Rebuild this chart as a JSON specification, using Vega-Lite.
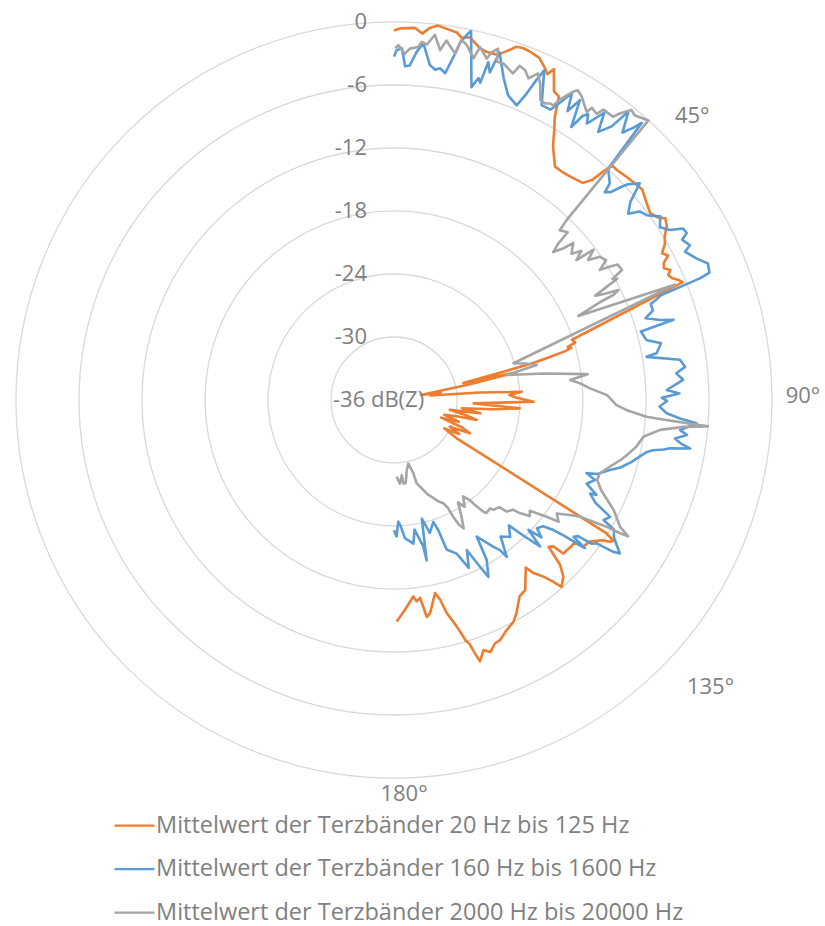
{
  "$schema": "https://vega.github.io/schema/vega-lite/v6.json",
  "width": 825,
  "height": 926,
  "padding": 0,
  "autosize": {"type": "none"},
  "background": "white",
  "config": {"view": {"stroke": null}, "font": "Open Sans"},
  "datasets": {
    "series": [
      {"s": "a", "name": "Mittelwert der Terzbänder 20 Hz bis 125 Hz"},
      {"s": "b", "name": "Mittelwert der Terzbänder 160 Hz bis 1600 Hz"},
      {"s": "c", "name": "Mittelwert der Terzbänder 2000 Hz bis 20000 Hz"}
    ],
    "rings": [{"db": -30}, {"db": -24}, {"db": -18}, {"db": -12}, {"db": -6}, {"db": 0}],
    "ringlabels": [
      {"db": 0, "lab": "0"}, {"db": -6, "lab": "-6"}, {"db": -12, "lab": "-12"},
      {"db": -18, "lab": "-18"}, {"db": -24, "lab": "-24"}, {"db": -30, "lab": "-30"}
    ],
    "centerlabel": [{"db": -36, "lab": "-36 dB(Z)"}],
    "anglabels": [
      {"t": 45, "lab": "45°"}, {"t": 90, "lab": "90°"}, {"t": 135, "lab": "135°"}, {"t": 180, "lab": "180°"}
    ],
    "curves": [
      {"s":"a","t":0,"v":-0.8},{"s":"a","t":1,"v":-0.6},{"s":"a","t":3.2,"v":-0.5},{"s":"a","t":4.4,"v":-1.0},{"s":"a","t":5.5,"v":-0.4},{"s":"a","t":6.7,"v":-0.1},{"s":"a","t":8.1,"v":-0.3},{"s":"a","t":9.7,"v":-0.5},{"s":"a","t":10.6,"v":-0.9},{"s":"a","t":11.8,"v":-0.7},{"s":"a","t":13.7,"v":-1.5},{"s":"a","t":15,"v":-1.7},{"s":"a","t":16.6,"v":-1.7},{"s":"a","t":17.7,"v":-1.2},{"s":"a","t":19.1,"v":-0.4},{"s":"a","t":20.1,"v":-0.3},{"s":"a","t":21.5,"v":-0.4},{"s":"a","t":23,"v":-0.6},{"s":"a","t":24.5,"v":-1.3},{"s":"a","t":25.2,"v":-1.7},{"s":"a","t":25.8,"v":-1.0},{"s":"a","t":27.4,"v":-2.9},{"s":"a","t":28.5,"v":-3.1},{"s":"a","t":29.6,"v":-5.0},{"s":"a","t":30.6,"v":-6.0},{"s":"a","t":32.1,"v":-7.5},{"s":"a","t":34.6,"v":-9.0},{"s":"a","t":36.7,"v":-9.0},{"s":"a","t":38.3,"v":-8.9},{"s":"a","t":41,"v":-8.6},{"s":"a","t":42,"v":-7.8},{"s":"a","t":42.5,"v":-6.4},{"s":"a","t":43,"v":-5.5},{"s":"a","t":44.1,"v":-5.5},{"s":"a","t":46.3,"v":-5.3},{"s":"a","t":48.5,"v":-5.1},{"s":"a","t":49.7,"v":-5.0},{"s":"a","t":52.1,"v":-5.5},{"s":"a","t":53.9,"v":-5.8},{"s":"a","t":55.2,"v":-5.5},{"s":"a","t":56.2,"v":-4.9},{"s":"a","t":57.5,"v":-5.2},{"s":"a","t":58.9,"v":-5.9},{"s":"a","t":60,"v":-6.2},{"s":"a","t":61.3,"v":-6.9},{"s":"a","t":62.2,"v":-6.5},{"s":"a","t":63.1,"v":-7.2},{"s":"a","t":64,"v":-7.4},{"s":"a","t":64.8,"v":-6.9},{"s":"a","t":65.5,"v":-7.3},{"s":"a","t":66.3,"v":-7.1},{"s":"a","t":67.1,"v":-6.6},{"s":"a","t":67.8,"v":-6.3},{"s":"a","t":71.3,"v":-18.1},{"s":"a","t":72.4,"v":-17.9},{"s":"a","t":73,"v":-18.7},{"s":"a","t":73.6,"v":-18.4},{"s":"a","t":74.1,"v":-19.1},{"s":"a","t":74.6,"v":-20.6},{"s":"a","t":75.1,"v":-22.2},{"s":"a","t":75.6,"v":-25.6},{"s":"a","t":76.2,"v":-29.2},{"s":"a","t":77.3,"v":-24.1},{"s":"a","t":78.3,"v":-28.8},{"s":"a","t":79.5,"v":-33.4},{"s":"a","t":81,"v":-31.5},{"s":"a","t":83,"v":-32.5},{"s":"a","t":85,"v":-27.8},{"s":"a","t":86.3,"v":-23.8},{"s":"a","t":87.5,"v":-25.0},{"s":"a","t":89,"v":-24.3},{"s":"a","t":90.7,"v":-22.7},{"s":"a","t":92.4,"v":-28.4},{"s":"a","t":93.8,"v":-24.0},{"s":"a","t":95.3,"v":-26.5},{"s":"a","t":97,"v":-29.5},{"s":"a","t":98.8,"v":-27.7},{"s":"a","t":100,"v":-30.6},{"s":"a","t":102,"v":-29.0},{"s":"a","t":103.6,"v":-27.9},{"s":"a","t":104.5,"v":-29.7},{"s":"a","t":106.5,"v":-31.0},{"s":"a","t":108.5,"v":-29.5},{"s":"a","t":110.5,"v":-31.2},{"s":"a","t":112,"v":-29.0},{"s":"a","t":113.7,"v":-28.1},{"s":"a","t":115.5,"v":-30.1},{"s":"a","t":117.5,"v":-29.0},{"s":"a","t":119.5,"v":-30.5},{"s":"a","t":121.4,"v":-29.0},{"s":"a","t":122.1,"v":-12.1},{"s":"a","t":122.7,"v":-11.2},{"s":"a","t":123.3,"v":-11.4},{"s":"a","t":124,"v":-12.1},{"s":"a","t":125.9,"v":-13.0},{"s":"a","t":127.8,"v":-13.2},{"s":"a","t":128.3,"v":-14.1},{"s":"a","t":129.5,"v":-14.1},{"s":"a","t":131,"v":-14.2},{"s":"a","t":132.2,"v":-14.2},{"s":"a","t":132.6,"v":-15.4},{"s":"a","t":133.5,"v":-15.7},{"s":"a","t":134.8,"v":-13.7},{"s":"a","t":136.2,"v":-12.7},{"s":"a","t":138.1,"v":-12.1},{"s":"a","t":138.8,"v":-13.0},{"s":"a","t":139.8,"v":-14.0},{"s":"a","t":141.2,"v":-14.9},{"s":"a","t":141.8,"v":-15.7},{"s":"a","t":145.4,"v":-14.0},{"s":"a","t":147.4,"v":-13.8},{"s":"a","t":150.1,"v":-12.6},{"s":"a","t":151.7,"v":-12.0},{"s":"a","t":153.9,"v":-11.6},{"s":"a","t":156.2,"v":-11.0},{"s":"a","t":157.5,"v":-10.9},{"s":"a","t":159.1,"v":-10.3},{"s":"a","t":160.3,"v":-10.7},{"s":"a","t":161.8,"v":-9.8},{"s":"a","t":162.3,"v":-10.7},{"s":"a","t":162.8,"v":-11.7},{"s":"a","t":163.4,"v":-12.1},{"s":"a","t":164.5,"v":-13.6},{"s":"a","t":166.1,"v":-15.1},{"s":"a","t":167,"v":-16.5},{"s":"a","t":168,"v":-17.2},{"s":"a","t":170.4,"v":-15.4},{"s":"a","t":171.4,"v":-15.1},{"s":"a","t":172.5,"v":-17.0},{"s":"a","t":173.6,"v":-16.7},{"s":"a","t":174.4,"v":-17.2},{"s":"a","t":177,"v":-16.0},{"s":"a","t":179.3,"v":-14.9},
      {"s":"b","t":0,"v":-3.3},{"s":"b","t":0.4,"v":-2.7},{"s":"b","t":1.3,"v":-2.5},{"s":"b","t":1.9,"v":-4.2},{"s":"b","t":2.7,"v":-4.1},{"s":"b","t":3.7,"v":-2.8},{"s":"b","t":4.7,"v":-1.9},{"s":"b","t":6.1,"v":-3.9},{"s":"b","t":7.1,"v":-4.3},{"s":"b","t":7.9,"v":-4.1},{"s":"b","t":8.9,"v":-4.5},{"s":"b","t":10,"v":-2.5},{"s":"b","t":10.5,"v":-1.4},{"s":"b","t":11.3,"v":-0.5},{"s":"b","t":11.8,"v":-0.1},{"s":"b","t":13.9,"v":-5.3},{"s":"b","t":14.7,"v":-4.3},{"s":"b","t":15.2,"v":-4.7},{"s":"b","t":15.6,"v":-2.6},{"s":"b","t":16.3,"v":-3.5},{"s":"b","t":16.9,"v":-1.4},{"s":"b","t":18.8,"v":-3.6},{"s":"b","t":20.5,"v":-5.0},{"s":"b","t":22.6,"v":-5.6},{"s":"b","t":23.4,"v":-4.2},{"s":"b","t":24,"v":-2.6},{"s":"b","t":24.5,"v":-1.5},{"s":"b","t":26.6,"v":-4.6},{"s":"b","t":28.3,"v":-4.6},{"s":"b","t":29.3,"v":-3.4},{"s":"b","t":30.1,"v":-2.2},{"s":"b","t":31,"v":-3.9},{"s":"b","t":31.8,"v":-2.4},{"s":"b","t":33,"v":-5.0},{"s":"b","t":33.6,"v":-3.5},{"s":"b","t":34.2,"v":-3.1},{"s":"b","t":34.9,"v":-3.9},{"s":"b","t":36.2,"v":-2.1},{"s":"b","t":37.3,"v":-3.9},{"s":"b","t":38.5,"v":-2.7},{"s":"b","t":39.1,"v":-0.6},{"s":"b","t":40.5,"v":-2.5},{"s":"b","t":41.3,"v":-1.5},{"s":"b","t":41.8,"v":-0.6},{"s":"b","t":42.8,"v":-6.0},{"s":"b","t":44,"v":-6.5},{"s":"b","t":44.9,"v":-6.9},{"s":"b","t":45.4,"v":-7.8},{"s":"b","t":46.2,"v":-7.4},{"s":"b","t":46.8,"v":-6.4},{"s":"b","t":47.3,"v":-5.7},{"s":"b","t":48.6,"v":-4.8},{"s":"b","t":50,"v":-6.6},{"s":"b","t":51.5,"v":-7.5},{"s":"b","t":52.5,"v":-6.5},{"s":"b","t":53.8,"v":-6.2},{"s":"b","t":55.4,"v":-5.2},{"s":"b","t":57,"v":-5.8},{"s":"b","t":58.4,"v":-5.1},{"s":"b","t":59.3,"v":-4.0},{"s":"b","t":60.3,"v":-3.9},{"s":"b","t":60.9,"v":-4.6},{"s":"b","t":62.4,"v":-4.2},{"s":"b","t":63,"v":-4.9},{"s":"b","t":64.9,"v":-4.2},{"s":"b","t":66.5,"v":-3.4},{"s":"b","t":68,"v":-3.6},{"s":"b","t":68.3,"v":-4.6},{"s":"b","t":68.6,"v":-8.7},{"s":"b","t":69,"v":-9.2},{"s":"b","t":69.5,"v":-9.9},{"s":"b","t":70.9,"v":-9.9},{"s":"b","t":72,"v":-10.8},{"s":"b","t":73.3,"v":-9.5},{"s":"b","t":74,"v":-8.3},{"s":"b","t":74.5,"v":-11.6},{"s":"b","t":76.6,"v":-11.3},{"s":"b","t":78,"v":-10.0},{"s":"b","t":79.9,"v":-10.6},{"s":"b","t":80.3,"v":-11.6},{"s":"b","t":82,"v":-8.5},{"s":"b","t":83.5,"v":-8.1},{"s":"b","t":84.6,"v":-9.0},{"s":"b","t":86,"v":-8.4},{"s":"b","t":87.9,"v":-10.0},{"s":"b","t":88.7,"v":-8.8},{"s":"b","t":89.5,"v":-10.5},{"s":"b","t":90.2,"v":-10.0},{"s":"b","t":91.4,"v":-10.7},{"s":"b","t":92.8,"v":-10.0},{"s":"b","t":93.7,"v":-8.7},{"s":"b","t":94.4,"v":-7.1},{"s":"b","t":96,"v":-8.6},{"s":"b","t":96.8,"v":-7.9},{"s":"b","t":97.8,"v":-9.0},{"s":"b","t":98.6,"v":-8.4},{"s":"b","t":99.3,"v":-7.4},{"s":"b","t":99.9,"v":-9.3},{"s":"b","t":100.4,"v":-9.9},{"s":"b","t":101,"v":-10.9},{"s":"b","t":101.6,"v":-11.4},{"s":"b","t":103,"v":-12.0},{"s":"b","t":104.6,"v":-12.6},{"s":"b","t":106.6,"v":-13.5},{"s":"b","t":108,"v":-14.4},{"s":"b","t":110,"v":-15.4},{"s":"b","t":110.8,"v":-16.4},{"s":"b","t":111.7,"v":-15.4},{"s":"b","t":113.5,"v":-16.0},{"s":"b","t":115.1,"v":-14.7},{"s":"b","t":115.5,"v":-15.3},{"s":"b","t":117,"v":-14.5},{"s":"b","t":118.4,"v":-12.6},{"s":"b","t":119.8,"v":-13.0},{"s":"b","t":120.5,"v":-11.7},{"s":"b","t":122,"v":-11.3},{"s":"b","t":124.2,"v":-10.0},{"s":"b","t":124.7,"v":-10.6},{"s":"b","t":125.3,"v":-12.4},{"s":"b","t":126,"v":-12.7},{"s":"b","t":126.5,"v":-14.2},{"s":"b","t":127.3,"v":-14.5},{"s":"b","t":127.8,"v":-13.0},{"s":"b","t":128.6,"v":-15.3},{"s":"b","t":129.2,"v":-16.4},{"s":"b","t":130.3,"v":-17.4},{"s":"b","t":131.9,"v":-17.7},{"s":"b","t":133,"v":-16.8},{"s":"b","t":134,"v":-18.2},{"s":"b","t":135.1,"v":-16.3},{"s":"b","t":135.8,"v":-17.4},{"s":"b","t":136.6,"v":-18.5},{"s":"b","t":137.5,"v":-19.8},{"s":"b","t":139.7,"v":-18.9},{"s":"b","t":142,"v":-19.5},{"s":"b","t":144.3,"v":-17.6},{"s":"b","t":144.8,"v":-18.5},{"s":"b","t":145.9,"v":-19.1},{"s":"b","t":148.8,"v":-20.8},{"s":"b","t":149.9,"v":-18.4},{"s":"b","t":151.9,"v":-16.9},{"s":"b","t":152.7,"v":-18.1},{"s":"b","t":154.1,"v":-20.1},{"s":"b","t":156,"v":-18.5},{"s":"b","t":157.8,"v":-20.2},{"s":"b","t":160.6,"v":-20.9},{"s":"b","t":161.2,"v":-22.9},{"s":"b","t":162.1,"v":-23.8},{"s":"b","t":164.9,"v":-22.9},{"s":"b","t":166.8,"v":-24.4},{"s":"b","t":168.5,"v":-20.4},{"s":"b","t":168.7,"v":-21.8},{"s":"b","t":171,"v":-23.5},{"s":"b","t":172.3,"v":-22.2},{"s":"b","t":175.5,"v":-22.8},{"s":"b","t":177,"v":-24.0},{"s":"b","t":178,"v":-24.4},{"s":"b","t":178.9,"v":-23.0},{"s":"b","t":180,"v":-23.6},
      {"s":"c","t":0.2,"v":-2.5},{"s":"c","t":0.7,"v":-2.2},{"s":"c","t":1.8,"v":-3.0},{"s":"c","t":2.6,"v":-2.5},{"s":"c","t":3.9,"v":-2.3},{"s":"c","t":4.4,"v":-1.8},{"s":"c","t":5.3,"v":-2.0},{"s":"c","t":6.4,"v":-1.0},{"s":"c","t":7.5,"v":-2.4},{"s":"c","t":8.3,"v":-1.4},{"s":"c","t":10,"v":-2.5},{"s":"c","t":10.6,"v":-1.1},{"s":"c","t":11.6,"v":-1.5},{"s":"c","t":13.1,"v":-2.6},{"s":"c","t":13.7,"v":-1.4},{"s":"c","t":15.2,"v":-2.3},{"s":"c","t":15.7,"v":-1.6},{"s":"c","t":16.5,"v":-1.1},{"s":"c","t":16.9,"v":-2.3},{"s":"c","t":18,"v":-2.3},{"s":"c","t":20,"v":-2.9},{"s":"c","t":20.6,"v":-2.0},{"s":"c","t":21.7,"v":-2.2},{"s":"c","t":22.7,"v":-2.8},{"s":"c","t":23.8,"v":-2.0},{"s":"c","t":24.9,"v":-2.9},{"s":"c","t":26,"v":-4.2},{"s":"c","t":27,"v":-4.3},{"s":"c","t":27.7,"v":-4.1},{"s":"c","t":28.4,"v":-4.1},{"s":"c","t":28.9,"v":-3.3},{"s":"c","t":30.2,"v":-2.0},{"s":"c","t":30.7,"v":-1.7},{"s":"c","t":31.7,"v":-2.0},{"s":"c","t":33.8,"v":-3.0},{"s":"c","t":34.1,"v":-2.4},{"s":"c","t":35.3,"v":-2.6},{"s":"c","t":35.8,"v":-1.9},{"s":"c","t":37.7,"v":-1.9},{"s":"c","t":38.3,"v":-1.2},{"s":"c","t":39.3,"v":-0.3},{"s":"c","t":40.2,"v":-0.5},{"s":"c","t":42.3,"v":0.0},{"s":"c","t":43.8,"v":-12.2},{"s":"c","t":44.3,"v":-13.4},{"s":"c","t":46,"v":-13.0},{"s":"c","t":46.4,"v":-14.4},{"s":"c","t":47.1,"v":-15.3},{"s":"c","t":48.1,"v":-14.4},{"s":"c","t":48.8,"v":-13.3},{"s":"c","t":50.5,"v":-14.1},{"s":"c","t":51.5,"v":-13.2},{"s":"c","t":52.5,"v":-14.1},{"s":"c","t":53,"v":-12.2},{"s":"c","t":54.2,"v":-13.2},{"s":"c","t":55.2,"v":-12.1},{"s":"c","t":56.6,"v":-11.8},{"s":"c","t":57.7,"v":-12.8},{"s":"c","t":58.3,"v":-11.8},{"s":"c","t":58.8,"v":-11.1},{"s":"c","t":60.3,"v":-11.0},{"s":"c","t":61,"v":-12.2},{"s":"c","t":61.5,"v":-11.8},{"s":"c","t":62,"v":-13.1},{"s":"c","t":62.6,"v":-14.4},{"s":"c","t":63.2,"v":-13.6},{"s":"c","t":63.9,"v":-12.2},{"s":"c","t":64.4,"v":-12.8},{"s":"c","t":64.6,"v":-14.3},{"s":"c","t":65,"v":-15.4},{"s":"c","t":65.5,"v":-16.7},{"s":"c","t":67.7,"v":-7.1},{"s":"c","t":72.9,"v":-24.1},{"s":"c","t":74.5,"v":-23.0},{"s":"c","t":76.2,"v":-22.0},{"s":"c","t":77.5,"v":-25.0},{"s":"c","t":80,"v":-21.5},{"s":"c","t":82.4,"v":-17.4},{"s":"c","t":83.5,"v":-19.1},{"s":"c","t":84.9,"v":-18.2},{"s":"c","t":86.6,"v":-17.3},{"s":"c","t":88.7,"v":-15.7},{"s":"c","t":91.3,"v":-14.8},{"s":"c","t":92.5,"v":-13.8},{"s":"c","t":93.8,"v":-11.9},{"s":"c","t":94.2,"v":-10.0},{"s":"c","t":94.8,"v":-6.0},{"s":"c","t":95.3,"v":-8.3},{"s":"c","t":96.4,"v":-10.5},{"s":"c","t":98.4,"v":-12.0},{"s":"c","t":100.9,"v":-12.5},{"s":"c","t":103.3,"v":-13.2},{"s":"c","t":104.9,"v":-13.7},{"s":"c","t":107.2,"v":-14.5},{"s":"c","t":109.6,"v":-15.2},{"s":"c","t":111.5,"v":-15.2},{"s":"c","t":113.5,"v":-14.5},{"s":"c","t":116.6,"v":-12.6},{"s":"c","t":119.3,"v":-11.3},{"s":"c","t":120.2,"v":-10.2},{"s":"c","t":120.5,"v":-11.0},{"s":"c","t":120.8,"v":-12.4},{"s":"c","t":121.3,"v":-13.5},{"s":"c","t":122.1,"v":-15.1},{"s":"c","t":123.2,"v":-16.0},{"s":"c","t":124.9,"v":-17.1},{"s":"c","t":126.5,"v":-16.5},{"s":"c","t":127.4,"v":-17.7},{"s":"c","t":128.5,"v":-18.7},{"s":"c","t":129.2,"v":-19.3},{"s":"c","t":130.5,"v":-19.0},{"s":"c","t":132,"v":-19.9},{"s":"c","t":132.7,"v":-20.6},{"s":"c","t":134.7,"v":-20.9},{"s":"c","t":135.5,"v":-21.7},{"s":"c","t":137.9,"v":-21.9},{"s":"c","t":138.4,"v":-22.2},{"s":"c","t":140.7,"v":-22.1},{"s":"c","t":141.4,"v":-22.4},{"s":"c","t":142.4,"v":-23.4},{"s":"c","t":142.8,"v":-24.0},{"s":"c","t":144.4,"v":-24.7},{"s":"c","t":146.5,"v":-23.8},{"s":"c","t":148,"v":-24.5},{"s":"c","t":149.9,"v":-23.2},{"s":"c","t":151.5,"v":-22.1},{"s":"c","t":152.5,"v":-22.6},{"s":"c","t":153.1,"v":-23.5},{"s":"c","t":153.4,"v":-24.5},{"s":"c","t":154.5,"v":-25.1},{"s":"c","t":156.5,"v":-25.5},{"s":"c","t":158.7,"v":-26.1},{"s":"c","t":160.5,"v":-26.5},{"s":"c","t":162,"v":-27.0},{"s":"c","t":164.8,"v":-27.8},{"s":"c","t":165.2,"v":-28.8},{"s":"c","t":167.3,"v":-29.8},{"s":"c","t":169.7,"v":-29.2},{"s":"c","t":172,"v":-28.0},{"s":"c","t":173.6,"v":-28.0},{"s":"c","t":174.1,"v":-28.8},{"s":"c","t":176,"v":-28.0},{"s":"c","t":178,"v":-28.7}
    ]
  },
  "layer": [
    {
      "data": {"name": "rings"},
      "transform": [{"calculate": "datum.db + 36", "as": "r"}],
      "mark": {"type": "point", "shape": "circle", "filled": false, "stroke": "#D9D9D9", "strokeWidth": 1.3, "opacity": 1},
      "encoding": {
        "x": {"datum": 0, "type": "quantitative", "scale": {"domain": [-37.524, 41.048], "nice": false, "zero": false}, "axis": null},
        "y": {"datum": 0, "type": "quantitative", "scale": {"domain": [-50.095, 38.095], "nice": false, "zero": false}, "axis": null},
        "size": {"field": "r", "type": "quantitative", "scale": {"type": "pow", "exponent": 2, "domain": [0, 36], "range": [0, 571536]}, "legend": null}
      }
    },
    {
      "data": {"name": "curves"},
      "transform": [
        {"lookup": "s", "from": {"data": {"name": "series"}, "key": "s", "fields": ["name"]}},
        {"calculate": "(datum.v + 36) * sin(datum.t * PI / 180)", "as": "x"},
        {"calculate": "(datum.v + 36) * cos(datum.t * PI / 180)", "as": "y"}
      ],
      "mark": {"type": "line", "strokeWidth": 2.6, "strokeJoin": "round"},
      "encoding": {
        "x": {"field": "x", "type": "quantitative", "scale": {"domain": [-37.524, 41.048], "nice": false, "zero": false}, "axis": null},
        "y": {"field": "y", "type": "quantitative", "scale": {"domain": [-50.095, 38.095], "nice": false, "zero": false}, "axis": null},
        "order": {"field": "t", "type": "quantitative"},
        "color": {
          "field": "name", "type": "nominal",
          "scale": {
            "domain": ["Mittelwert der Terzbänder 20 Hz bis 125 Hz", "Mittelwert der Terzbänder 160 Hz bis 1600 Hz", "Mittelwert der Terzbänder 2000 Hz bis 20000 Hz"],
            "range": ["#ED7D31", "#5B9BD5", "#A5A5A5"]
          },
          "legend": {
            "title": null, "orient": "none", "legendX": 113, "legendY": 804, "direction": "vertical",
            "symbolType": "stroke", "symbolSize": 1600, "symbolStrokeWidth": 2.25,
            "labelFontSize": 23.5, "labelFont": "Open Sans", "labelColor": "#808080", "labelLimit": 0,
            "rowPadding": 10.5, "labelOffset": 0, "padding": 0
          }
        }
      }
    },
    {
      "data": {"name": "ringlabels"},
      "transform": [{"calculate": "datum.db + 36", "as": "r"}],
      "mark": {"type": "text", "align": "right", "baseline": "middle", "dx": -27, "fontSize": 22, "font": "Open Sans", "color": "#808080"},
      "encoding": {
        "x": {"datum": 0, "type": "quantitative"},
        "y": {"field": "r", "type": "quantitative"},
        "text": {"field": "lab"}
      }
    },
    {
      "data": {"name": "centerlabel"},
      "transform": [{"calculate": "datum.db + 36", "as": "r"}],
      "mark": {"type": "text", "align": "left", "baseline": "middle", "dx": -61, "fontSize": 22, "font": "Open Sans", "color": "#808080"},
      "encoding": {
        "x": {"datum": 0, "type": "quantitative"},
        "y": {"field": "r", "type": "quantitative"},
        "text": {"field": "lab"}
      }
    },
    {
      "data": {"name": "anglabels"},
      "transform": [
        {"filter": "datum.t == 45"},
        {"calculate": "37.3 * sin(datum.t * PI / 180)", "as": "x"},
        {"calculate": "37.3 * cos(datum.t * PI / 180)", "as": "y"}
      ],
      "mark": {"type": "text", "align": "left", "baseline": "alphabetic", "dx": 4, "fontSize": 22, "font": "Open Sans", "color": "#808080"},
      "encoding": {"x": {"field": "x", "type": "quantitative"}, "y": {"field": "y", "type": "quantitative"}, "text": {"field": "lab"}}
    },
    {
      "data": {"name": "anglabels"},
      "transform": [
        {"filter": "datum.t == 90"},
        {"calculate": "37.3 * sin(datum.t * PI / 180)", "as": "x"},
        {"calculate": "37.3 * cos(datum.t * PI / 180)", "as": "y"}
      ],
      "mark": {"type": "text", "align": "left", "baseline": "middle", "dx": 0, "dy": -4, "fontSize": 22, "font": "Open Sans", "color": "#808080"},
      "encoding": {"x": {"field": "x", "type": "quantitative"}, "y": {"field": "y", "type": "quantitative"}, "text": {"field": "lab"}}
    },
    {
      "data": {"name": "anglabels"},
      "transform": [
        {"filter": "datum.t == 135"},
        {"calculate": "37.3 * sin(datum.t * PI / 180)", "as": "x"},
        {"calculate": "37.3 * cos(datum.t * PI / 180)", "as": "y"}
      ],
      "mark": {"type": "text", "align": "left", "baseline": "top", "dx": 16, "fontSize": 22, "font": "Open Sans", "color": "#808080"},
      "encoding": {"x": {"field": "x", "type": "quantitative"}, "y": {"field": "y", "type": "quantitative"}, "text": {"field": "lab"}}
    },
    {
      "data": {"name": "anglabels"},
      "transform": [
        {"filter": "datum.t == 180"},
        {"calculate": "37.3 * sin(datum.t * PI / 180)", "as": "x"},
        {"calculate": "37.3 * cos(datum.t * PI / 180)", "as": "y"}
      ],
      "mark": {"type": "text", "align": "center", "baseline": "top", "dx": 10, "dy": -8, "fontSize": 22, "font": "Open Sans", "color": "#808080"},
      "encoding": {"x": {"field": "x", "type": "quantitative"}, "y": {"field": "y", "type": "quantitative"}, "text": {"field": "lab"}}
    }
  ]
}
